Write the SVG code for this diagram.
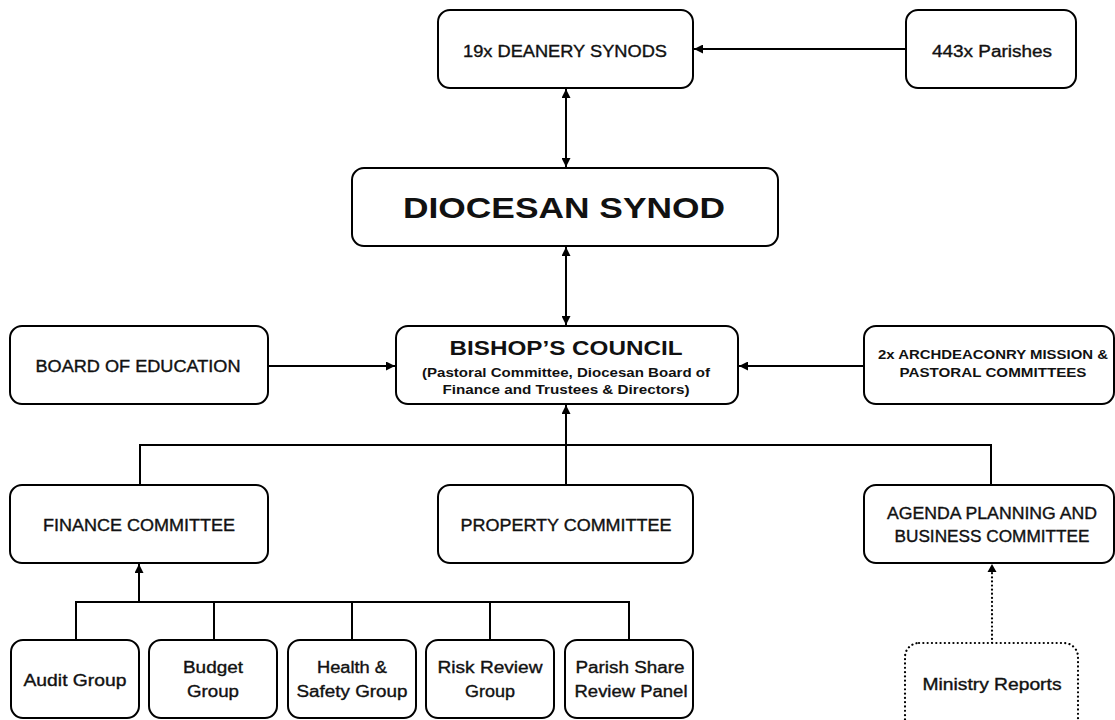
<svg xmlns="http://www.w3.org/2000/svg" width="1115" height="720" viewBox="0 0 1115 720">
<defs>
<marker id="ah" viewBox="0 0 10 10" refX="10" refY="5" markerWidth="9" markerHeight="9" markerUnits="userSpaceOnUse" orient="auto-start-reverse">
<path d="M0,0 L10,5 L0,10 z" fill="#000"/>
</marker>
<style>
rect.n{fill:#fff;stroke:#000;stroke-width:2;}
rect.d{fill:#fff;stroke:#000;stroke-width:2.2;stroke-dasharray:0.1 4.2;stroke-linecap:round;}
text{font-family:"Liberation Sans",Arial,sans-serif;fill:#111;text-anchor:middle;}
.r{font-size:16px;stroke:#111;stroke-width:0.35;}
.s{font-size:12.5px;font-weight:bold;}
.t1{font-size:30px;font-weight:bold;}
.t2{font-size:20px;font-weight:bold;}
.c path.ln,.c line{fill:none;stroke:#000;stroke-width:2;}
.c .dot{stroke-dasharray:0.1 4;stroke-linecap:round;stroke-width:2.2;}
.c path.hd{fill:#000;stroke:none;}
</style>
</defs>
<rect width="1115" height="720" fill="#fff"/>
<g class="c" id="connectors">
<line x1="906" y1="49" x2="694" y2="49" marker-end="url(#ah)"/>
<line x1="566" y1="89" x2="566" y2="167" marker-start="url(#ah)" marker-end="url(#ah)"/>
<line x1="566" y1="247" x2="566" y2="325" marker-start="url(#ah)" marker-end="url(#ah)"/>
<line x1="268" y1="366" x2="395" y2="366" marker-end="url(#ah)"/>
<line x1="864" y1="366" x2="739" y2="366" marker-end="url(#ah)"/>
<line x1="566" y1="485" x2="566" y2="405" marker-end="url(#ah)"/>
<path class="ln" d="M140,485 V445 H991 V485"/>
<line x1="139" y1="602" x2="139" y2="564" marker-end="url(#ah)"/>
<path class="ln" d="M76,640 V602 H629 V640"/>
<line x1="214" y1="602" x2="214" y2="640"/>
<line x1="352" y1="602" x2="352" y2="640"/>
<line x1="490" y1="602" x2="490" y2="640"/>
<line class="dot" x1="992" y1="643" x2="992" y2="572"/>
<path class="hd" d="M987.5,572 L992,564 L996.5,572 z"/>
</g>
<g id="deanery"><rect class="n" x="438" y="10" width="255" height="78" rx="12"/><text class="r" x="565" y="57" textLength="204" lengthAdjust="spacingAndGlyphs">19x DEANERY SYNODS</text></g>
<g id="parishes"><rect class="n" x="906" y="10" width="170" height="78" rx="12"/><text class="r" x="992" y="57" textLength="120" lengthAdjust="spacingAndGlyphs">443x Parishes</text></g>
<g id="diocesan"><rect class="n" x="352" y="168" width="426" height="78" rx="12"/><text class="t1" x="564" y="218" textLength="322" lengthAdjust="spacingAndGlyphs">DIOCESAN SYNOD</text></g>
<g id="bishops"><rect class="n" x="396" y="326" width="342" height="78" rx="12"/>
<text class="t2" x="566" y="355" textLength="233" lengthAdjust="spacingAndGlyphs">BISHOP’S COUNCIL</text>
<text class="s" x="566" y="377" textLength="288" lengthAdjust="spacingAndGlyphs">(Pastoral Committee, Diocesan Board of</text>
<text class="s" x="566" y="394" textLength="247" lengthAdjust="spacingAndGlyphs">Finance and Trustees &amp; Directors)</text></g>
<g id="education"><rect class="n" x="10" y="326" width="258" height="78" rx="12"/><text class="r" x="138" y="372" textLength="205" lengthAdjust="spacingAndGlyphs">BOARD OF EDUCATION</text></g>
<g id="archdeaconry"><rect class="n" x="864" y="326" width="250" height="78" rx="12"/>
<text class="s" x="993" y="359" textLength="230" lengthAdjust="spacingAndGlyphs">2x ARCHDEACONRY MISSION &amp;</text>
<text class="s" x="993" y="377" textLength="187" lengthAdjust="spacingAndGlyphs">PASTORAL COMMITTEES</text></g>
<g id="finance"><rect class="n" x="10" y="485" width="258" height="78" rx="12"/><text class="r" x="139" y="531" textLength="192" lengthAdjust="spacingAndGlyphs">FINANCE COMMITTEE</text></g>
<g id="property"><rect class="n" x="438" y="485" width="255" height="78" rx="12"/><text class="r" x="566" y="531" textLength="211" lengthAdjust="spacingAndGlyphs">PROPERTY COMMITTEE</text></g>
<g id="agenda"><rect class="n" x="864" y="485" width="250" height="78" rx="12"/>
<text class="r" x="992" y="519" textLength="210" lengthAdjust="spacingAndGlyphs">AGENDA PLANNING AND</text>
<text class="r" x="992" y="542" textLength="195" lengthAdjust="spacingAndGlyphs">BUSINESS COMMITTEE</text></g>
<g id="audit"><rect class="n" x="11" y="640" width="128" height="78" rx="12"/><text class="r" x="75" y="686" textLength="103" lengthAdjust="spacingAndGlyphs">Audit Group</text></g>
<g id="budget"><rect class="n" x="149" y="640" width="128" height="78" rx="12"/>
<text class="r" x="213" y="673" textLength="60" lengthAdjust="spacingAndGlyphs">Budget</text>
<text class="r" x="213" y="697" textLength="52" lengthAdjust="spacingAndGlyphs">Group</text></g>
<g id="health"><rect class="n" x="288" y="640" width="128" height="78" rx="12"/>
<text class="r" x="352" y="673" textLength="70" lengthAdjust="spacingAndGlyphs">Health &amp;</text>
<text class="r" x="352" y="697" textLength="111" lengthAdjust="spacingAndGlyphs">Safety Group</text></g>
<g id="risk"><rect class="n" x="426" y="640" width="128" height="78" rx="12"/>
<text class="r" x="490" y="673" textLength="105" lengthAdjust="spacingAndGlyphs">Risk Review</text>
<text class="r" x="490" y="697" textLength="50" lengthAdjust="spacingAndGlyphs">Group</text></g>
<g id="parishshare"><rect class="n" x="565" y="640" width="128" height="78" rx="12"/>
<text class="r" x="630" y="673" textLength="109" lengthAdjust="spacingAndGlyphs">Parish Share</text>
<text class="r" x="631" y="697" textLength="113" lengthAdjust="spacingAndGlyphs">Review Panel</text></g>
<g id="ministry"><rect class="d" x="905" y="643" width="173" height="90" rx="14"/><text class="r" x="992" y="690" textLength="139" lengthAdjust="spacingAndGlyphs">Ministry Reports</text></g>
</svg>
